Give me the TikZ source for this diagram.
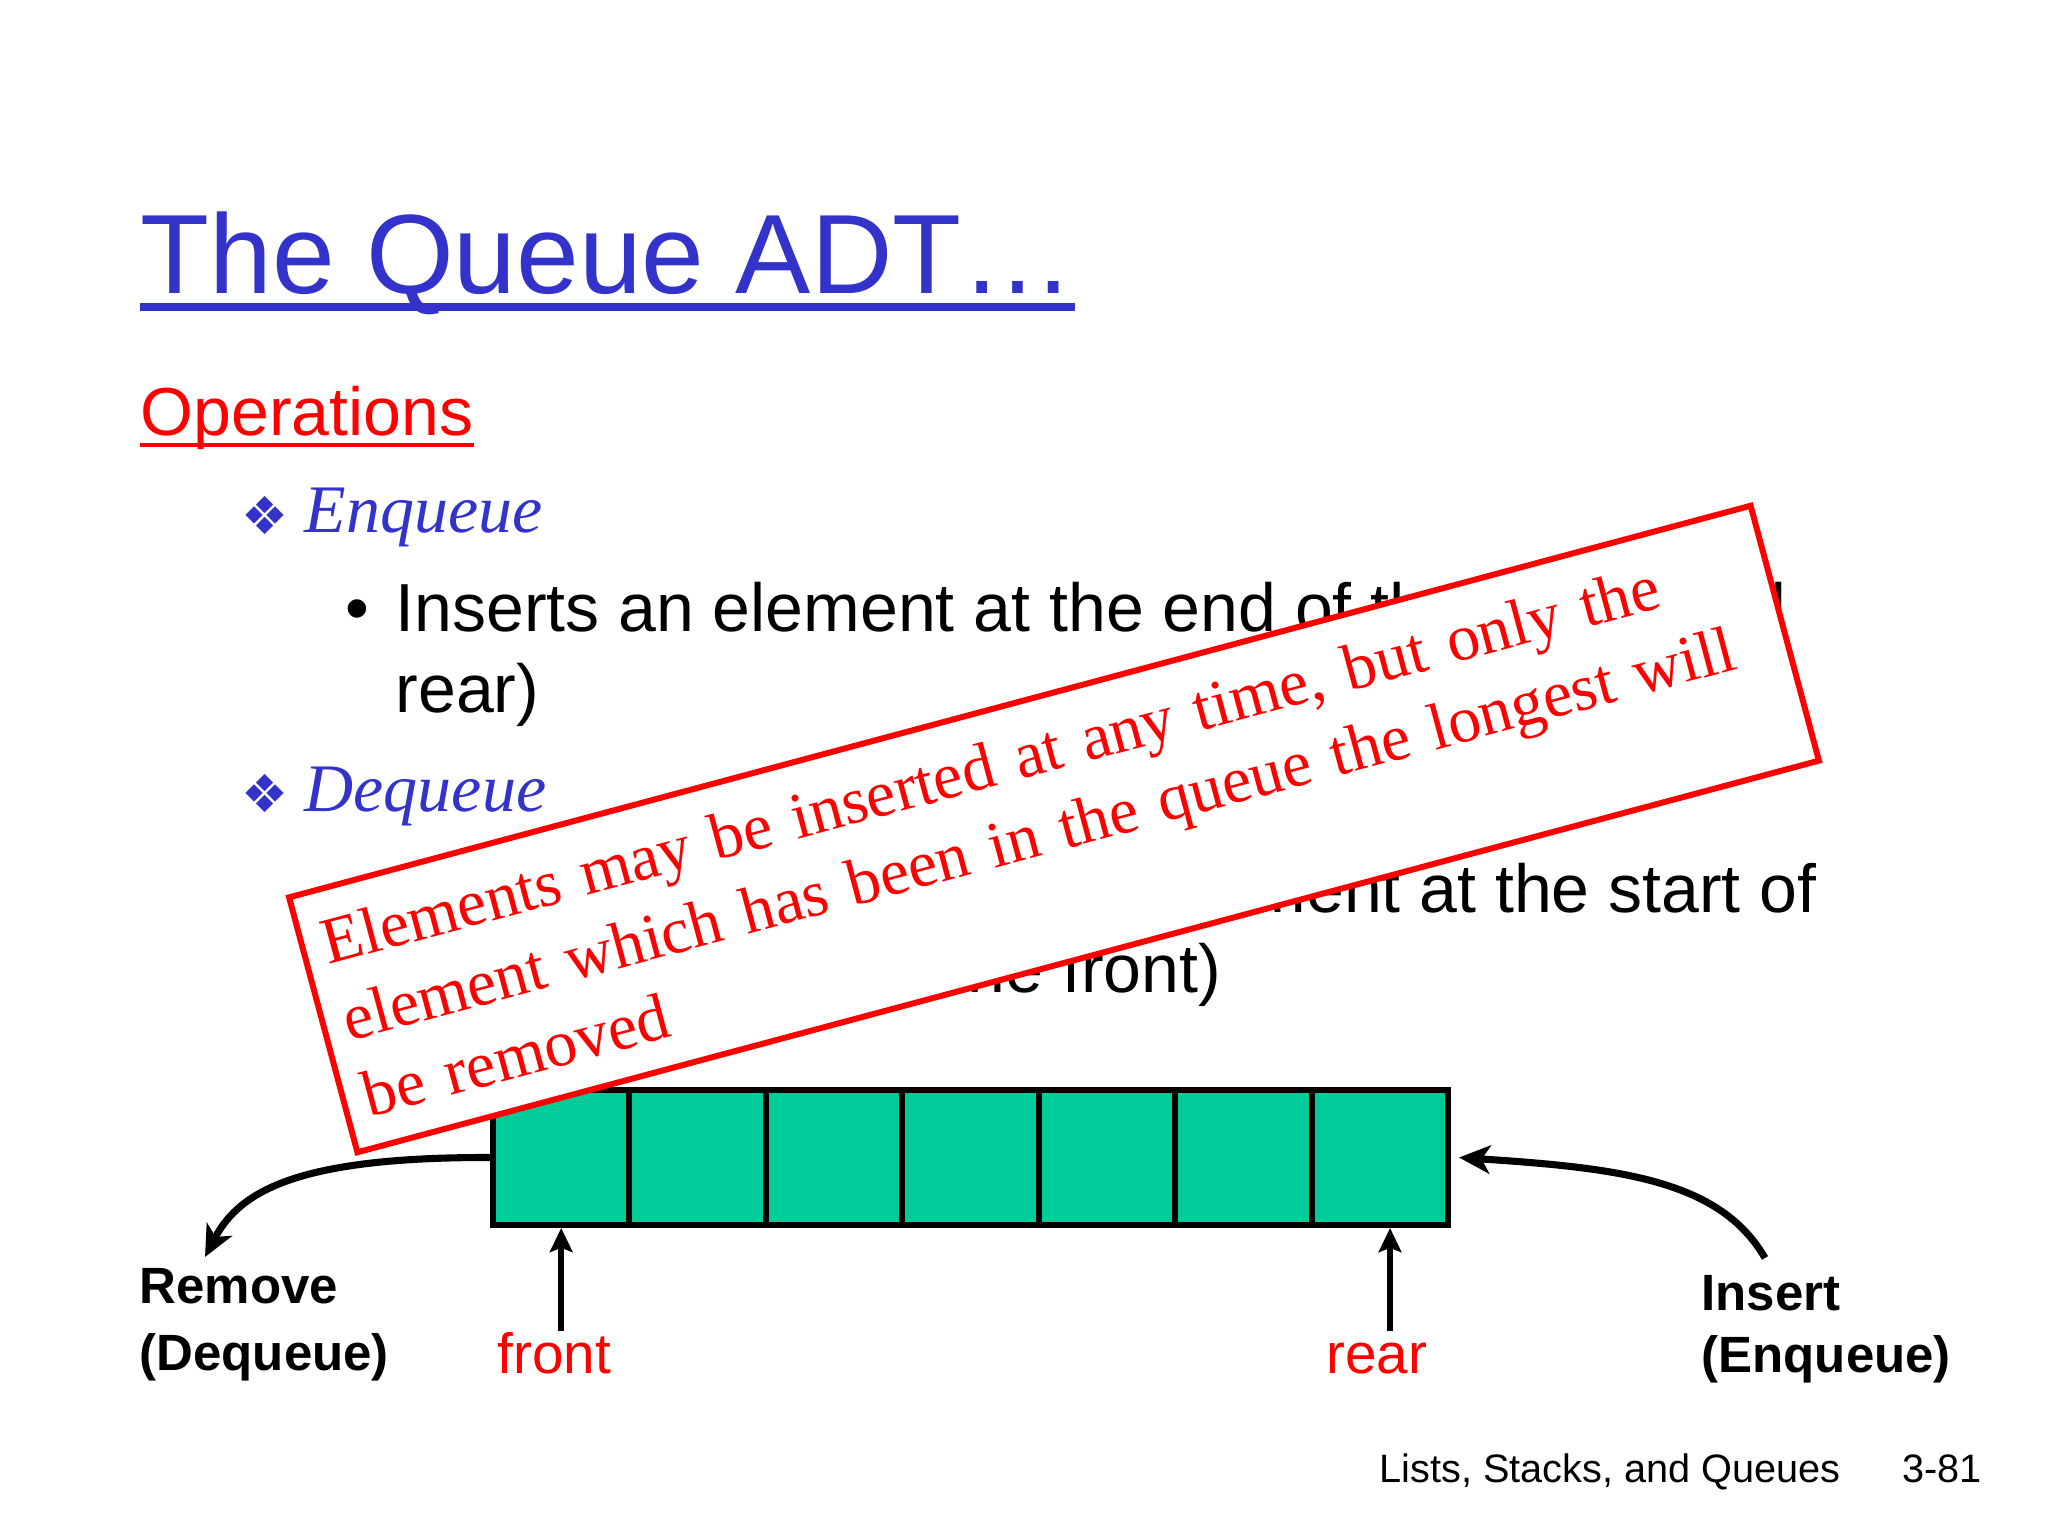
\documentclass[tikz,border=0pt]{standalone}
\usepackage{fontspec}
\setmainfont{Liberation Sans}
\newfontfamily\timesfont{Liberation Serif}
\newfontfamily\dejavu{DejaVu Sans}
\usepackage{tikz}
\usetikzlibrary{arrows.meta, calc}

\begin{document}
\begin{tikzpicture}[x=0.0124cm, y=-0.0124cm,
    txt/.style={inner sep=0pt, anchor=base west},
    heading/.style={txt, text=slideblue, font=\fontsize{39.8}{48}\selectfont},
    subhead/.style={txt, text=red, font=\fontsize{24}{29}\selectfont},
    opname/.style={txt, text=slideblue, font=\timesfont\itshape\fontsize{24}{29}\selectfont},
    orn/.style={inner sep=0pt, text=slideblue, font=\dejavu\fontsize{18.5}{20}\selectfont},
    body/.style={txt, font=\fontsize{24}{29}\selectfont},
    lbl/.style={txt, font=\bfseries\fontsize{18}{22}\selectfont},
    ptrlbl/.style={txt, text=red, font=\fontsize{20}{24}\selectfont},
    foot/.style={txt, font=\fontsize{14}{17}\selectfont},
    cell/.style={draw, fill=queuegreen, line width=2.1pt, minimum width=1.6917cm, minimum height=1.674cm, inner sep=0pt},
    flow/.style={-{Stealth[length=11pt, width=10pt, inset=3pt]}, line width=2.5pt},
    ptr/.style={-{Stealth[length=8.5pt, width=8pt, inset=1.5pt]}, line width=2.2pt},
    note/.style={draw=red, fill=white, line width=2.1pt, rotate=15, inner sep=0pt,
      minimum width=18.77cm, minimum height=3.274cm, text width=18.25cm, align=left,
      text=red, font=\timesfont\fontsize{23.2}{27.9}\selectfont}]
      \definecolor{slideblue}{RGB}{51,51,204}
      \definecolor{queuegreen}{RGB}{0,204,153}
      \fill[white] (0,0) rectangle (2048,1536);
      \useasboundingbox (0,0) rectangle (2048,1536);

      % title and operations
      \node[heading] (title) at (140,293) {The Queue ADT…};
      \draw[slideblue, line width=2.9pt] ($(title.base west)+(0,14)$) -- ($(title.base east)+(0,14)$);
      \node[subhead] (ops) at (140,435) {Operations};
      \draw[red, line width=1.5pt] ($(ops.base west)+(0,10)$) -- ($(ops.base east)+(0,10)$);

      \node[orn] (orn1) at (265,515) {❖};
      \node[opname] (enq) at (304,532) {Enqueue};
      \node[body, anchor=base] (dot1) at (357,631) {•};
      \node[body] (enq1) at (395,631) {Inserts an element at the end of the list (called};
      \node[body] (enq2) at (395,712) {rear)};

      \node[orn] (orn2) at (265,793) {❖};
      \node[opname] (deq) at (304,811) {Dequeue};
      \node[body, anchor=base] (dot2) at (357,912) {•};
      \node[body] (deq1) at (395,912) {Removes and returns an element at the start of};
      \node[body] (deq2) at (408,992) {the queue (called the front)};

      % the queue
      \foreach \i in {0,...,6}
        \node[cell] (c\i) at ({561.2+136.43*\i},1157.5) {};

      \node[lbl] (rm1) at (139,1303) {Remove};
      \node[lbl] (rm2) at (139,1370) {(Dequeue)};
      \node[lbl] (in1) at (1701,1310) {Insert};
      \node[lbl] (in2) at (1701,1372) {(Enqueue)};
      \node[ptrlbl] (front) at (497,1373) {front};
      \node[ptrlbl] (rear) at (1326,1373) {rear};

      \coordinate (rmtip) at (205,1257);
      \coordinate (instail) at (1765,1258);
      \coordinate (rearpt) at (1390,1228);
      \draw[flow] (c0.west) .. controls (300,1157) and (240,1190) .. (rmtip);
      \draw[flow] (instail) .. controls (1720,1180) and (1620,1168) .. ([xshift=0.1cm]c6.east);
      \draw[ptr] (c0.south |- front.north) -- (c0.south);
      \draw[ptr] (rearpt |- front.north) -- (rearpt);

      \node[foot] (foot) at (1379,1482) {Lists, Stacks, and Queues};
      \node[foot] (page) at (1902,1482) {3-81};

      % callout
      \node[note] (note) at (1054,829) {Elements may be inserted at any time, but only the\\
        element which has been in the queue the longest will\\
        be removed};
    \end{tikzpicture}
\end{document}
